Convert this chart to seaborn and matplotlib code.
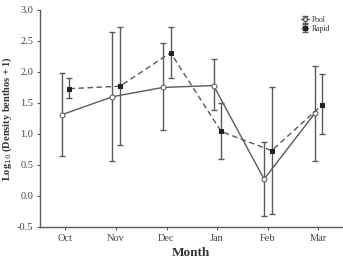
import numpy as np
import pandas as pd
import seaborn as sns
import matplotlib.pyplot as plt

months = ["Oct", "Nov", "Dec", "Jan", "Feb", "Mar"]
pool_mean = [1.31, 1.60, 1.75, 1.78, 0.27, 1.33]
pool_low = [0.65, 0.57, 1.06, 1.38, -0.33, 0.57]
pool_high = [1.99, 2.64, 2.46, 2.21, 0.87, 2.10]
rapid_mean = [1.73, 1.77, 2.31, 1.04, 0.73, 1.47]
rapid_low = [1.58, 0.82, 1.90, 0.59, -0.29, 1.00]
rapid_high = [1.90, 2.73, 2.73, 1.50, 1.75, 1.97]

sns.set_style("ticks")
plt.rcParams["font.family"] = ["Liberation Serif", "DejaVu Serif"]
plt.rcParams["axes.unicode_minus"] = False

pos = np.arange(len(months))
df = pd.DataFrame({
    "x": np.concatenate([pos - 0.07, pos + 0.08]),
    "y": pool_mean + rapid_mean,
    "site": ["Pool"] * 6 + ["Rapid"] * 6,
})

fig = plt.figure(figsize=(3.43, 2.62), dpi=100)
ax = fig.add_axes([0.117, 0.134, 0.88, 0.828])

grey = "#5a5a5a"
dark = "#222222"
# error bars
ax.errorbar(pos - 0.07, pool_mean,
            yerr=[np.subtract(pool_mean, pool_low), np.subtract(pool_high, pool_mean)],
            fmt="none", ecolor=grey, elinewidth=1.0, capsize=2.5, capthick=1.0, zorder=2)
ax.errorbar(pos + 0.08, rapid_mean,
            yerr=[np.subtract(rapid_mean, rapid_low), np.subtract(rapid_high, rapid_mean)],
            fmt="none", ecolor=grey, elinewidth=1.0, capsize=2.5, capthick=1.0, zorder=2)

sns.lineplot(data=df[df.site == "Pool"], x="x", y="y", ax=ax, color=grey, lw=1.0,
             marker="o", markersize=3.5, markerfacecolor="white", markeredgecolor=grey,
             zorder=3, legend=False)
sns.lineplot(data=df[df.site == "Rapid"], x="x", y="y", ax=ax, color=grey, lw=1.0,
             linestyle=(0, (4, 2.5)), marker="s", markersize=3.5, markerfacecolor=dark,
             markeredgecolor=dark, zorder=3, legend=False)

# legend handles (errorbar style, no data)
h_pool = ax.errorbar([np.nan], [np.nan], yerr=[1], fmt="-o", color=grey, lw=1.0,
                     markersize=3, markerfacecolor="white", markeredgecolor=grey,
                     ecolor=grey, elinewidth=0.8, capsize=2.5)
h_rapid = ax.errorbar([np.nan], [np.nan], yerr=[1], fmt="s", linestyle=(0, (2, 1.5)),
                      color=grey, lw=1.0, markersize=3, markerfacecolor=dark,
                      markeredgecolor=dark, ecolor=grey, elinewidth=0.8, capsize=2.5)

ax.set_xlim(-0.5, 5.47)
ax.set_ylim(-0.5, 3.0)
ax.set_xticks(pos)
ax.set_xticklabels(months)
ax.set_yticks(np.arange(-0.5, 3.01, 0.5))
ax.set_yticklabels([f"{v:.1f}" for v in np.arange(-0.5, 3.01, 0.5)])
ax.tick_params(labelsize=7.5, length=2.5, width=0.8, color=grey, labelcolor="#444444", pad=2.5)
ax.set_xlabel("Month", fontsize=9.5, fontweight="bold", color="#333333", labelpad=3)
ax.set_ylabel("Log$_{10}$ (Density benthos + 1)", fontsize=7.5, fontweight="bold",
              color="#333333", labelpad=2)
for s in ["left", "bottom"]:
    ax.spines[s].set_color(grey)
    ax.spines[s].set_linewidth(1.0)
sns.despine(ax=ax)

ax.legend([h_pool, h_rapid], ["Pool", "Rapid"], loc="upper right", fontsize=5.5,
          frameon=False, handlelength=1.0, handletextpad=0.4, labelspacing=0.1,
          bbox_to_anchor=(0.98, 1.0), borderpad=0.3)

fig.savefig("out.png", dpi=100)
